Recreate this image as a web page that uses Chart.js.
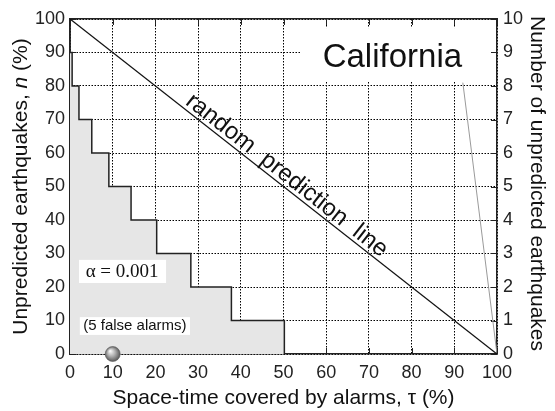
<!DOCTYPE html>
<html>
<head>
<meta charset="utf-8">
<script src="https://cdn.jsdelivr.net/npm/chart.js@4.4.0/dist/chart.umd.min.js"></script>
<style>
  html, body { margin: 0; padding: 0; background: #fff; }
  #wrap { width: 555px; height: 411px; }
</style>
</head>
<body>
<div id="wrap"><canvas id="errorChart" width="555" height="411"></canvas></div>
<script>
// error diagram: unpredicted earthquakes vs. space-time covered by alarms
const tauSteps = [0, 0, 0.5, 2.1, 5.1, 9.1, 14.3, 20.3, 28.3, 37.8, 50.2];
const nSteps = [100, 90, 80, 70, 60, 50, 40, 30, 20, 10, 0];

// random prediction line
const randomTau = [0, 100];
const randomN = [100, 0];

// thin gray line near the right edge
const edgeTau = [92, 100];
const edgeN = [81, 0];

// the alarm point on the axis
const alarmTau = [10];
const alarmN = [0];

// tick labels
const tauTicks = [0, 10, 20, 30, 40, 50, 60, 70, 80, 90, 100];
const nTicks = [0, 10, 20, 30, 40, 50, 60, 70, 80, 90, 100];
const countTicks = [0, 1, 2, 3, 4, 5, 6, 7, 8, 9, 10];

const SANS = '"Liberation Sans", Arial, Helvetica, sans-serif';
const SERIF = '"Liberation Serif", "Times New Roman", serif';

function toPoints(xs, ys) {
    return xs.map((x, i) => ({ x: x, y: ys[i] }));
}

function setTicks(values) {
    return scale => { scale.ticks = values.map(v => ({ value: v })); };
}

// shaded sphere for the alarm point
function ballColor(context) {
    const chart = context.chart;
    const raw = context.raw;
    if (!raw || !chart.scales.x) return '#999';
    const px = chart.scales.x.getPixelForValue(raw.x);
    const py = chart.scales.y.getPixelForValue(raw.y);
    if (!isFinite(px) || !isFinite(py)) return '#999';
    const g = chart.ctx.createRadialGradient(px - 2.5, py - 3, 0.5, px, py, 8);
    g.addColorStop(0, '#f6f6f6');
    g.addColorStop(0.45, '#b0b0b0');
    g.addColorStop(1, '#505050');
    return g;
}

function fillBox(chart, b) {
    const { ctx, scales: { x, y } } = chart;
    const x0 = x.getPixelForValue(b[0]), x1 = x.getPixelForValue(b[1]);
    const y0 = y.getPixelForValue(b[3]), y1 = y.getPixelForValue(b[2]);
    ctx.fillStyle = '#fff';
    ctx.fillRect(x0, y0, x1 - x0, y1 - y0);
}

// labels, boxes, axis titles and inner tick marks
const decorations = {
    id: 'decorations',
    beforeDatasetsDraw(chart) {
        const { ctx, chartArea: a, scales: { x, y } } = chart;
        ctx.save();
        // box behind the region name
        fillBox(chart, [54, 99.5, 81.5, 97.3]);

        // inner tick marks on all four sides
        ctx.strokeStyle = '#222';
        ctx.lineWidth = 1;
        ctx.beginPath();
        tauTicks.forEach(v => {
            const px = Math.round(x.getPixelForValue(v)) + 0.5;
            ctx.moveTo(px, a.top); ctx.lineTo(px, a.top + 6);
            ctx.moveTo(px, a.bottom); ctx.lineTo(px, a.bottom - 6);
        });
        nTicks.forEach(v => {
            const py = Math.round(y.getPixelForValue(v)) + 0.5;
            ctx.moveTo(a.left, py); ctx.lineTo(a.left + 6, py);
            ctx.moveTo(a.right, py); ctx.lineTo(a.right - 6, py);
        });
        ctx.stroke();
        ctx.restore();
    },
    afterDatasetsDraw(chart) {
        const { ctx, chartArea: a, scales: { x, y } } = chart;
        ctx.save();

        fillBox(chart, [2.1, 22.5, 21.2, 28.1]);
        fillBox(chart, [2.3, 28.1, 5.7, 11.0]);

        ctx.fillStyle = '#111';
        ctx.textAlign = 'center';
        ctx.textBaseline = 'middle';

        // region name
        ctx.font = '33px ' + SANS;
        ctx.fillText('California', x.getPixelForValue(75.5), y.getPixelForValue(88.4));

        // significance level
        ctx.font = '19px ' + SERIF;
        ctx.fillText('\u03b1 = 0.001', x.getPixelForValue(12.2), y.getPixelForValue(24.5));

        ctx.font = '15px ' + SANS;
        ctx.fillText('(5 false alarms)', x.getPixelForValue(15.2), y.getPixelForValue(8.3));

        // text along the random prediction line
        const lx0 = x.getPixelForValue(randomTau[0]), ly0 = y.getPixelForValue(randomN[0]);
        const lx1 = x.getPixelForValue(randomTau[1]), ly1 = y.getPixelForValue(randomN[1]);
        const ang = Math.atan2(ly1 - ly0, lx1 - lx0);
        ctx.save();
        ctx.translate(x.getPixelForValue(49.2), y.getPixelForValue(100 - 49.2));
        ctx.rotate(ang);
        ctx.font = '24px ' + SANS;
        ctx.textBaseline = 'alphabetic';
        ctx.fillText('random  prediction  line', 0, -4);
        ctx.restore();

        // axis titles
        const midY = (a.top + a.bottom) / 2;
        ctx.font = '21px ' + SANS;
        ctx.textBaseline = 'middle';
        ctx.fillText('Space-time covered by alarms, \u03c4 (%)', (a.left + a.right) / 2, 398);

        ctx.save();
        ctx.translate(537, midY - 3);
        ctx.rotate(Math.PI / 2);
        ctx.fillText('Number of unpredicted earthquakes', 0, 0);
        ctx.restore();

        // left title with italic n
        ctx.save();
        ctx.translate(21, midY);
        ctx.rotate(-Math.PI / 2);
        const partA = 'Unpredicted earthquakes, ', partB = 'n', partC = ' (%)';
        ctx.font = '21px ' + SANS;
        const wA = ctx.measureText(partA).width, wC = ctx.measureText(partC).width;
        ctx.font = 'italic 21px ' + SANS;
        const wB = ctx.measureText(partB).width;
        let cx = -(wA + wB + wC) / 2;
        ctx.textAlign = 'left';
        ctx.font = '21px ' + SANS;
        ctx.fillText(partA, cx, 0); cx += wA;
        ctx.font = 'italic 21px ' + SANS;
        ctx.fillText(partB, cx, 0); cx += wB;
        ctx.font = '21px ' + SANS;
        ctx.fillText(partC, cx, 0);
        ctx.restore();

        ctx.restore();
    }
};

const tickFont = { family: SANS, size: 18 };

new Chart(document.getElementById('errorChart'), {
    type: 'scatter',
    data: {
        datasets: [
            {
                label: 'Error diagram',
                data: toPoints(tauSteps, nSteps),
                showLine: true,
                stepped: 'before',
                borderColor: '#222',
                borderWidth: 1.5,
                backgroundColor: '#e6e6e6',
                fill: 'origin',
                pointRadius: 0,
                order: 3
            },
            {
                label: 'Random prediction',
                data: toPoints(randomTau, randomN),
                showLine: true,
                borderColor: '#111',
                borderWidth: 1.3,
                pointRadius: 0,
                fill: false,
                order: 2
            },
            {
                label: 'Edge',
                data: toPoints(edgeTau, edgeN),
                showLine: true,
                borderColor: '#9a9a9a',
                borderWidth: 1,
                pointRadius: 0,
                fill: false,
                order: 2
            },
            {
                label: 'Alarm',
                data: toPoints(alarmTau, alarmN),
                showLine: false,
                pointRadius: 7.5,
                pointBorderWidth: 0.6,
                pointBorderColor: '#555',
                pointBackgroundColor: ballColor,
                clip: false,
                order: 1
            }
        ]
    },
    options: {
        responsive: false,
        animation: false,
        layout: { padding: 0 },
        plugins: {
            legend: { display: false },
            tooltip: { enabled: false }
        },
        scales: {
            x: {
                type: 'linear',
                position: 'bottom',
                min: 0,
                max: 100,
                afterBuildTicks: setTicks(tauTicks),
                afterFit: s => { s.height = 57; },
                ticks: { font: tickFont, color: '#222', padding: 8, maxRotation: 0 },
                grid: { color: '#000', lineWidth: 1, drawTicks: false },
                border: { color: '#222', width: 1.5, dash: [1.5, 1.5] }
            },
            x2: {
                type: 'linear',
                position: 'top',
                min: 0,
                max: 100,
                afterFit: s => { s.height = 19; },
                ticks: { display: false },
                grid: { display: false, drawTicks: false },
                border: { color: '#222', width: 1.5 }
            },
            y: {
                type: 'linear',
                position: 'left',
                min: 0,
                max: 100,
                afterBuildTicks: setTicks(nTicks),
                afterFit: s => { s.width = 70; },
                ticks: { font: tickFont, color: '#222', padding: 5 },
                grid: { color: '#000', lineWidth: 1, drawTicks: false },
                border: { color: '#222', width: 1.5, dash: [1.5, 1.5] }
            },
            y2: {
                type: 'linear',
                position: 'right',
                min: 0,
                max: 10,
                afterBuildTicks: setTicks(countTicks),
                afterFit: s => { s.width = 58; },
                ticks: { font: tickFont, color: '#222', padding: 6 },
                grid: { display: false, drawTicks: false },
                border: { color: '#222', width: 1.5 }
            }
        }
    },
    plugins: [decorations]
});
</script>
</body>
</html>
